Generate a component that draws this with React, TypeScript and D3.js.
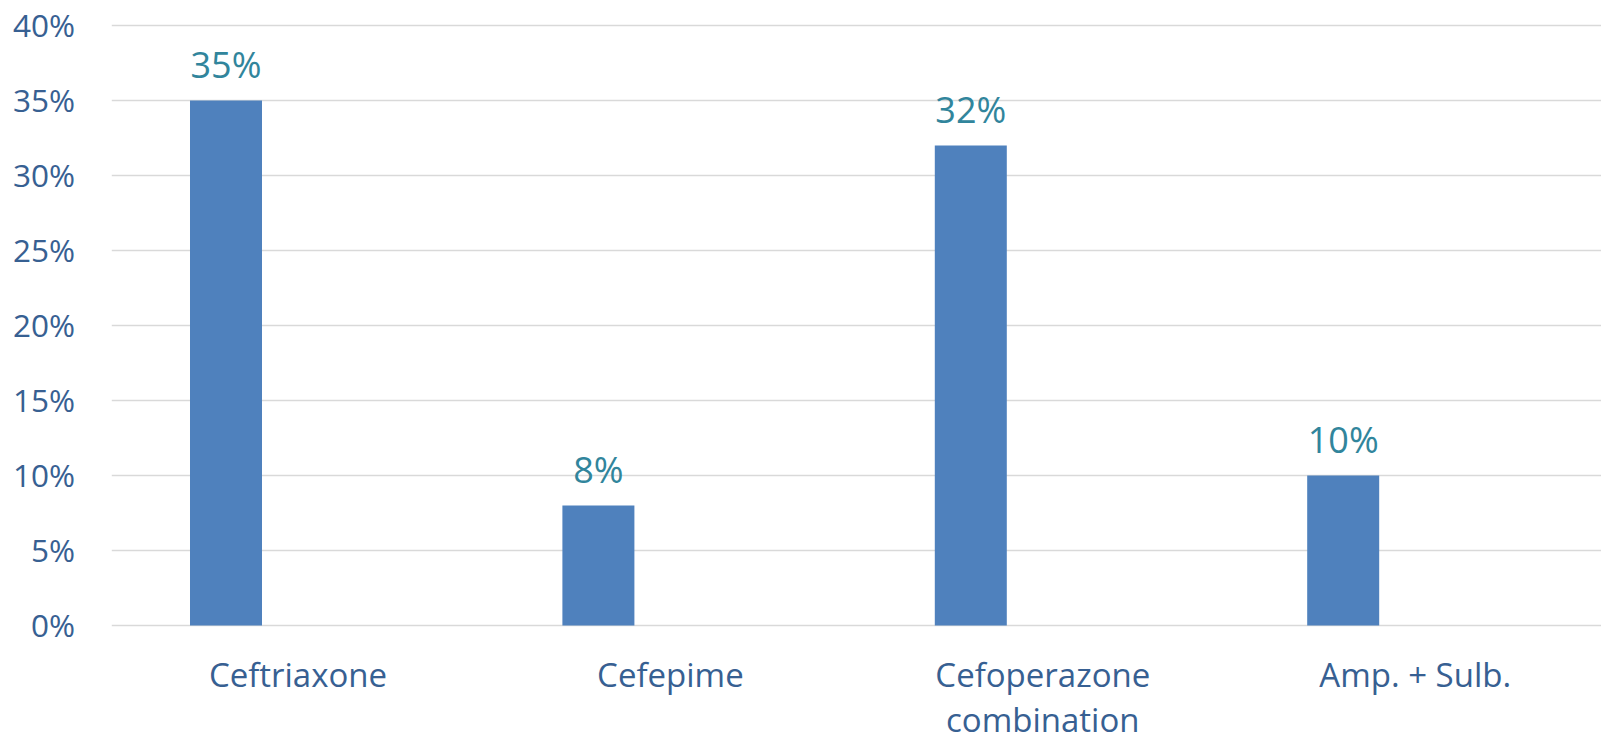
import React from "react";
import * as d3 from "d3";

// Share of each antibiotic
const categories: string[][] = [
  ["Ceftriaxone"],
  ["Cefepime"],
  ["Cefoperazone", "combination"],
  ["Amp. + Sulb."],
];
const values: number[] = [0.35, 0.08, 0.32, 0.1];
const yTicks: number[] = [0, 0.05, 0.1, 0.15, 0.2, 0.25, 0.3, 0.35, 0.4];

const W = 1601;
const H = 734;
const FONT = "'Open Sans', 'Noto Sans', sans-serif";

export default function App() {
  const plotLeft = 111.8;
  const plotRight = 1601.4;
  const plotTop = 25.5;
  const plotBottom = 625.5;

  const keys = categories.map((c) => c.join(" "));
  const x = d3.scaleBand<string>().domain(keys).range([plotLeft, plotRight]).padding(0);
  const y = d3.scaleLinear().domain([0, 0.4]).range([plotBottom, plotTop]);

  // Each category holds three bar slots; the data occupies the first one.
  const slot = d3
    .scaleBand<number>()
    .domain([0, 1, 2])
    .range([0, x.bandwidth()])
    .paddingInner(0)
    .paddingOuter(1.086);

  const pct = d3.format(".0%");

  return (
    <svg
      width={W}
      height={H}
      style={{ position: "absolute", left: 0, top: 0, background: "#fff" }}
    >
      {yTicks.map((t) => (
        <g key={t}>
          <line
            x1={plotLeft}
            x2={plotRight}
            y1={y(t)}
            y2={y(t)}
            stroke="#d9d9d9"
            strokeWidth={1.5}
          />
          <text
            x={75}
            y={y(t) + 11.5}
            textAnchor="end"
            fontFamily={FONT}
            fontSize={31.5}
            fill="#376092"
          >
            {pct(t)}
          </text>
        </g>
      ))}

      {values.map((v, i) => {
        const bx = (x(keys[i]) as number) + (slot(0) as number);
        const bw = slot.bandwidth();
        return (
          <g key={keys[i]}>
            <rect x={bx} y={y(v)} width={bw} height={y(0) - y(v)} fill="#4f81bd" />
            <text
              x={bx + bw / 2}
              y={y(v) - 23}
              textAnchor="middle"
              fontFamily={FONT}
              fontSize={36}
              fill="#31859c"
            >
              {pct(v)}
            </text>
          </g>
        );
      })}

      {categories.map((lines, i) => {
        const cx = (x(keys[i]) as number) + x.bandwidth() / 2;
        return (
          <text
            key={keys[i]}
            x={cx}
            y={686.5}
            textAnchor="middle"
            fontFamily={FONT}
            fontSize={33}
            fill="#376092"
          >
            {lines.map((ln, j) => (
              <tspan key={ln} x={cx} dy={j === 0 ? 0 : 45}>
                {ln}
              </tspan>
            ))}
          </text>
        );
      })}
    </svg>
  );
}
